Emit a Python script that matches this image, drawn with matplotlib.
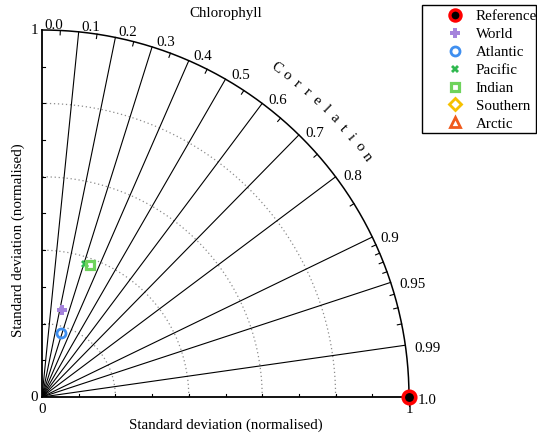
import numpy as np
import matplotlib
matplotlib.use('Agg')
import matplotlib.pyplot as plt
from matplotlib.lines import Line2D
from matplotlib.patches import Rectangle

plt.rcParams['font.family'] = ['Liberation Serif', 'DejaVu Serif']
plt.rcParams['font.size'] = 10.8

# normalised std dev and correlation of each basin vs reference
names = ['World', 'Atlantic', 'Pacific', 'Indian', 'Southern', 'Arctic']
std_norm = [0.243, 0.182, 0.381, 0.383, np.nan, np.nan]
corr = [0.227, 0.280, 0.308, 0.344, np.nan, np.nan]

ref_std = 1.0
corr_major = [0.0, 0.1, 0.2, 0.3, 0.4, 0.5, 0.6, 0.7, 0.8, 0.9, 0.95, 0.99, 1.0]
corr_minor = [0.05, 0.15, 0.25, 0.35, 0.45, 0.55, 0.65, 0.75, 0.85,
              0.91, 0.92, 0.93, 0.94, 0.96, 0.97, 0.98]
std_grid = [0.2, 0.4, 0.6, 0.8]

styles = {
    'World':    dict(marker='P', color='#a583dc', mfc='#a583dc', ms=6.5, mew=0),
    'Atlantic': dict(marker='o', color='#3f8ff0', mfc='none', ms=6.5, mew=2),
    'Pacific':  dict(marker='X', color='#2fb84f', mfc='#2fb84f', ms=5.5, mew=0),
    'Indian':   dict(marker='s', color='#6fd35c', mfc='none', ms=6, mew=2.3),
    'Southern': dict(marker='D', color='#f6c100', mfc='none', ms=6, mew=2),
    'Arctic':   dict(marker='^', color='#f05a1c', mfc='none', ms=7, mew=2),
}

W, H = 537, 436
fig = plt.figure(figsize=(W / 100, H / 100), dpi=100)
ax = fig.add_axes([42 / W, 39 / H, 367 / W, 367 / H])
ax.set_xlim(0, 1)
ax.set_ylim(0, 1)
ax.axis('off')

# dotted std-dev circles
th = np.linspace(0, np.pi / 2, 300)
for r in std_grid:
    ax.plot(r * np.cos(th), r * np.sin(th), ls=(0, (1, 2.2)), color='0.55', lw=0.9)

# radial correlation lines
for c in corr_major[1:-1]:
    a = np.arccos(c)
    ax.plot([0, np.cos(a)], [0, np.sin(a)], color='k', lw=0.8)

# outer arc and axes
ax.plot(ref_std * np.cos(th), ref_std * np.sin(th), color='k', lw=1.1, clip_on=False)
ax.plot([0, 1], [0, 0], color='k', lw=1.3, clip_on=False)
ax.plot([0, 0], [0, 1], color='k', lw=1.3, clip_on=False)

# minor ticks on arc
for c in corr_minor:
    a = np.arccos(c)
    ax.plot([np.cos(a), 0.988 * np.cos(a)], [np.sin(a), 0.988 * np.sin(a)], color='k', lw=0.8)

# axis ticks
for v in np.arange(1, 10) / 10:
    ax.plot([v, v], [0, 0.009], color='k', lw=0.8)
    ax.plot([0, 0.009], [v, v], color='k', lw=0.8)
ax.plot([1, 1], [0, -0.025], color='k', lw=0.8, clip_on=False)

# correlation labels
for c in corr_major:
    a = np.arccos(c)
    lab = '%.2f' % c if c in (0.95, 0.99) else '%.1f' % c
    dx = (2 + 7 * np.cos(a)) * 0.72
    dy = (1 - 8 * np.cos(a) ** 3) * 0.72
    ax.annotate(lab, xy=(np.cos(a), np.sin(a)), xytext=(dx, dy), textcoords='offset points',
                ha='left', va='baseline', annotation_clip=False)

# "Correlation" along the arc
word = 'Correlation'
angs = np.linspace(54.5, 36.4, len(word))
for ch, ang in zip(word, angs):
    ax.text(1.1 * np.cos(np.radians(ang)), 1.1 * np.sin(np.radians(ang)), ch,
            rotation=ang - 90, ha='center', va='center', clip_on=False)

# std axis labels
ax.annotate('1', xy=(0, 1), xytext=(-3, 0), textcoords='offset points', ha='right', va='center', annotation_clip=False)
ax.annotate('0', xy=(0, 0), xytext=(-3, 0), textcoords='offset points', ha='right', va='center', annotation_clip=False)
ax.annotate('0', xy=(0, 0), xytext=(0, -4), textcoords='offset points', ha='center', va='top', annotation_clip=False)
ax.annotate('1', xy=(1, 0), xytext=(0, -4), textcoords='offset points', ha='center', va='top', annotation_clip=False)

fig.text(226 / W, 1 - 14 / H, 'Chlorophyll', ha='center', va='center')
fig.text(226 / W, 1 - 425 / H, 'Standard deviation (normalised)', ha='center', va='center')
fig.text(18 / W, 1 - 240 / H, 'Standard deviation (normalised)', ha='center', va='center', rotation=90)

# points
ax.plot(ref_std, 0, 'o', ms=9, mfc='k', mec='red', mew=2.6, clip_on=False, zorder=5)
for n, s, c in zip(names, std_norm, corr):
    a = np.arccos(c)
    ax.plot(s * np.cos(a), s * np.sin(a), ls='none', zorder=5, **styles[n])

# legend
handles = [Line2D([], [], ls='none', marker='o', ms=8, mfc='k', mec='red', mew=2.4)]
handles += [Line2D([], [], ls='none', **styles[n]) for n in names]
labels = ['Reference'] + names
fig.legend(handles, labels, loc='upper left', bbox_to_anchor=(447.5 / W, 1 - 10 / H),
           frameon=False, borderpad=0, borderaxespad=0, handlelength=1.0,
           handletextpad=0.9, labelspacing=0.29)
fig.add_artist(Rectangle((422 / W, 1 - 133 / H), 114 / W, 128 / H, transform=fig.transFigure,
                         fill=False, ec='k', lw=1))

fig.savefig('out.png', dpi=100)
